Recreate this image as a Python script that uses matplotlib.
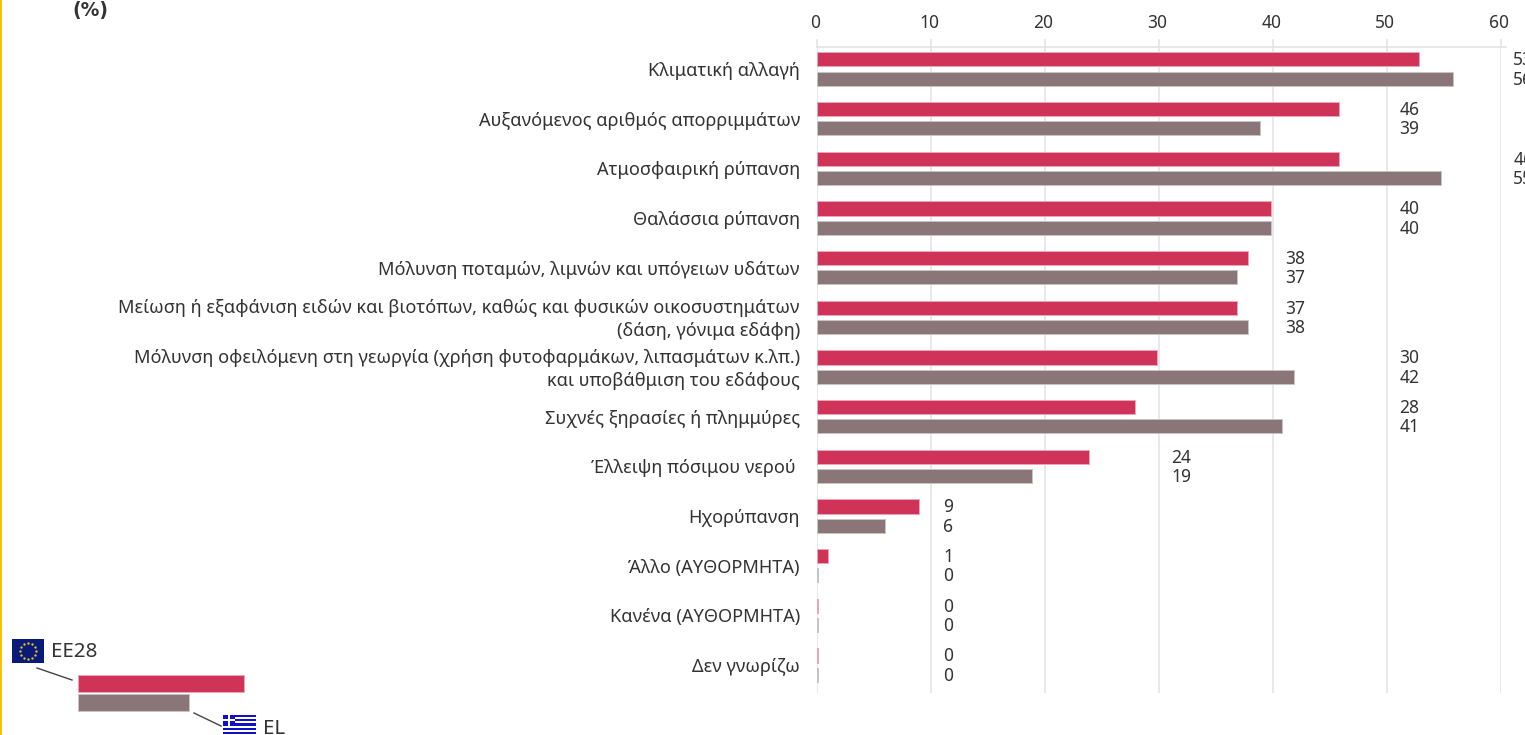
import numpy as np
import matplotlib
matplotlib.use("Agg")
import matplotlib.pyplot as plt
from matplotlib.patches import Rectangle

plt.rcParams['font.family'] = ['Noto Sans', 'DejaVu Sans']

W, H = 1525, 735

categories = [
    "Κλιματική αλλαγή",
    "Αυξανόμενος αριθμός απορριμμάτων",
    "Ατμοσφαιρική ρύπανση",
    "Θαλάσσια ρύπανση",
    "Μόλυνση ποταμών, λιμνών και υπόγειων υδάτων",
    "Μείωση ή εξαφάνιση ειδών και βιοτόπων, καθώς και φυσικών οικοσυστημάτων\n(δάση, γόνιμα εδάφη)",
    "Μόλυνση οφειλόμενη στη γεωργία (χρήση φυτοφαρμάκων, λιπασμάτων κ.λπ.)\nκαι υποβάθμιση του εδάφους",
    "Συχνές ξηρασίες ή πλημμύρες",
    "Έλλειψη πόσιμου νερού ",
    "Ηχορύπανση",
    "Άλλο (ΑΥΘΟΡΜΗΤΑ)",
    "Κανένα (ΑΥΘΟΡΜΗΤΑ)",
    "Δεν γνωρίζω",
]
ee28 = [53, 46, 46, 40, 38, 37, 30, 28, 24, 9, 1, 0, 0]
el = [56, 39, 55, 40, 37, 38, 42, 41, 19, 6, 0, 0, 0]
ticks = [0, 10, 20, 30, 40, 50, 60]

RED = "#cf3458"
GREY = "#8a7679"
RED_EDGE = "#eba6b8"
GREY_EDGE = "#c9c3c4"
TEXT = "#333333"
GRID = "#e4e4e4"


def fx(x):
    return x / W


def fy(y):
    return 1 - y / H


def bare(a):
    a.set_xticks([])
    a.set_yticks([])
    for s in a.spines.values():
        s.set_visible(False)


fig = plt.figure(figsize=(W / 100, H / 100), dpi=100, facecolor="white")

top, bottom = 46.5, 693
row0, step = 69.0, 49.68
ylim = ((bottom - row0) / step, (top - row0) / step)

# gridlines run on a slightly wider scale than the bars in the original
grid_left, grid_right = 816.7, 1500.7
ax_grid = fig.add_axes([fx(grid_left), fy(bottom), (grid_right - grid_left) / W, (bottom - top) / H])
ax_grid.set_xlim(0, 60)
ax_grid.set_ylim(*ylim)
bare(ax_grid)
ax_grid.set_xticks(ticks)
ax_grid.tick_params(axis="x", length=0, bottom=False, labelbottom=False)
ax_grid.grid(axis="x", color=GRID, lw=1.2)

ax = fig.add_axes([fx(816.6), fy(bottom), 60 * 11.36 / W, (bottom - top) / H])
ax.set_xlim(0, 60)
ax.set_ylim(*ylim)
ax.patch.set_alpha(0)
bare(ax)

y = np.arange(len(categories))
# zero bars still show as a hairline in the original
ax.barh(y - 0.193, np.maximum(ee28, 0.12), height=0.285, color=RED, edgecolor=RED_EDGE, lw=0.7)
ax.barh(y + 0.193, np.maximum(el, 0.12), height=0.285, color=GREY, edgecolor=GREY_EDGE, lw=0.7)

# value labels sit just past the next gridline
for i in y:
    pos = np.floor(max(ee28[i], el[i]) / 10) * 10 + 10 + 1.1
    ax_grid.text(pos, i - 0.175, str(ee28[i]), fontsize=12.5, color=TEXT, va="center", clip_on=False)
    ax_grid.text(pos, i + 0.215, str(el[i]), fontsize=12.5, color=TEXT, va="center", clip_on=False)
    fig.text(fx(800), fy(71 + i * step), categories[i], fontsize=13.1, color=TEXT,
             ha="right", va="center", multialignment="right", linespacing=1.36)

# top axis labels and lines reach a bit beyond the plot area
for t in ticks:
    px = grid_left + t * 11.4
    fig.text(fx(px - 1.5), fy(23), str(t), fontsize=12.5, color=TEXT, ha="center", va="center")
    fig.add_artist(plt.Line2D([fx(px)] * 2, [fy(40), fy(top)], color=GRID, lw=1.2))
fig.add_artist(plt.Line2D([fx(grid_left), fx(1506)], [fy(top)] * 2, color=GRID, lw=1.2))

fig.text(fx(90), fy(10.5), "(%)", fontsize=13.5, fontweight="bold", family="DejaVu Sans",
         color="#333333", ha="center", va="center")

# yellow page edge
fig.add_artist(Rectangle((0, 0), fx(1.5), 1, transform=fig.transFigure, color="#f5c400", lw=0))

# legend
fig.add_artist(Rectangle((fx(78), fy(692)), 166 / W, 17 / H, transform=fig.transFigure,
                         facecolor=RED, edgecolor=RED_EDGE, lw=0.7))
fig.add_artist(Rectangle((fx(78), fy(711)), 111 / W, 17 / H, transform=fig.transFigure,
                         facecolor=GREY, edgecolor=GREY_EDGE, lw=0.7))
fig.add_artist(plt.Line2D([fx(37), fx(72)], [fy(668), fy(680)], color="#444444", lw=1))
fig.add_artist(plt.Line2D([fx(194), fx(221)], [fy(713), fy(726)], color="#444444", lw=1))
fig.text(fx(51), fy(652), "EE28", fontsize=14.8, color=TEXT, va="center")
fig.text(fx(263), fy(729), "EL", fontsize=14.8, color=TEXT, va="center")

# EU flag
eu = fig.add_axes([fx(12), fy(663), 32 / W, 24 / H])
eu.set_facecolor("#0a1a78")
bare(eu)
eu.set_xlim(-1.33, 1.33)
eu.set_ylim(-1, 1)
ang = np.arange(12) * np.pi / 6
eu.scatter(0.66 * np.cos(ang), 0.66 * np.sin(ang), s=3, color="#e0c020", marker="o", lw=0)

# Greek flag
gr = fig.add_axes([fx(223), fy(734), 33 / W, 19 / H])
bare(gr)
gr.set_xlim(0, 27)
gr.set_ylim(0, 18)
gr.set_facecolor("white")
for k in range(0, 9, 2):
    gr.add_patch(Rectangle((0, k * 2), 27, 2, color="#1010c8", lw=0))
gr.add_patch(Rectangle((0, 8), 10, 10, color="#1010c8", lw=0))
gr.add_patch(Rectangle((4, 8), 2, 10, color="white", lw=0))
gr.add_patch(Rectangle((0, 12), 10, 2, color="white", lw=0))

fig.savefig("out.png", dpi=100)
